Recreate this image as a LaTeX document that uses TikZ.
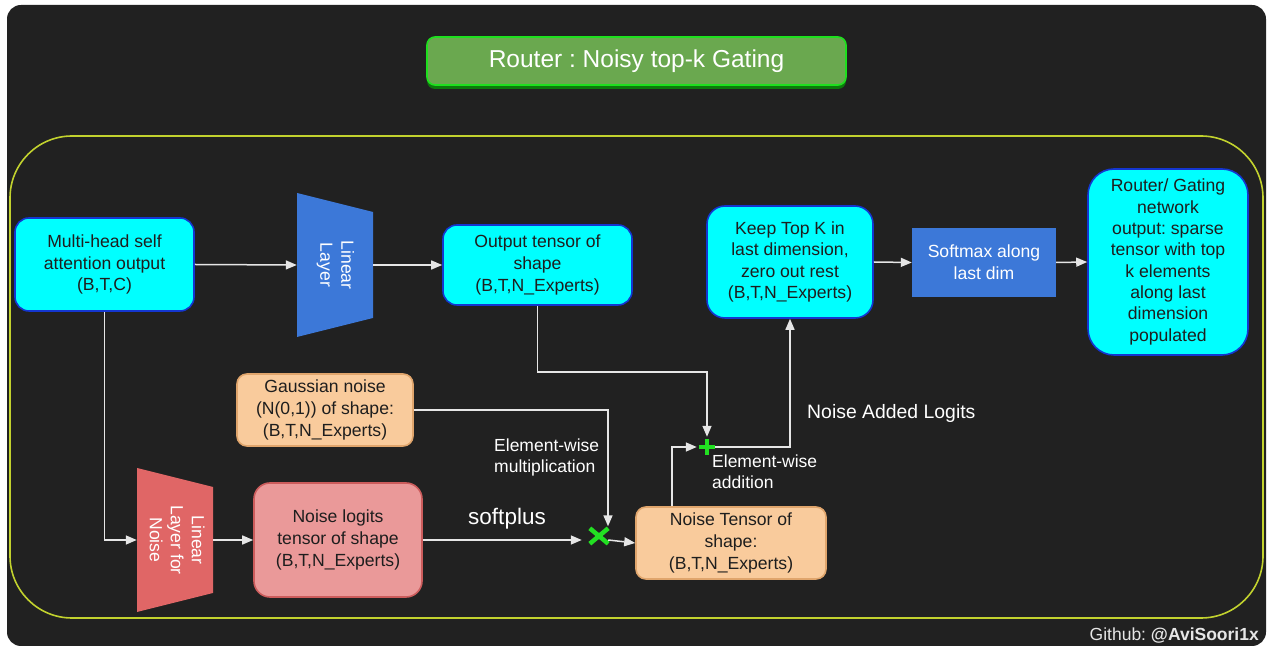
\documentclass[tikz,border=0pt]{standalone}
\usepackage{fontspec}
\usepackage{graphicx}
\setmainfont{Liberation Sans}
\frenchspacing
\usetikzlibrary{arrows.meta}
\definecolor{bg}{HTML}{212121}
\definecolor{cyanF}{HTML}{00FFFF}
\definecolor{cyanB}{HTML}{1436D0}
\definecolor{orangeF}{HTML}{F9CB9C}
\definecolor{orangeB}{HTML}{E0A56C}
\definecolor{pinkF}{HTML}{EA9999}
\definecolor{pinkB}{HTML}{CC5C5C}
\definecolor{redT}{HTML}{E06666}
\definecolor{blueT}{HTML}{3C78D8}
\definecolor{titleF}{HTML}{6AA84F}
\definecolor{titleB}{HTML}{1EE01E}
\definecolor{titleS}{HTML}{0B7A0B}
\definecolor{frameY}{HTML}{C2D22E}
\definecolor{txtdark}{HTML}{1E1E1E}
\definecolor{lineC}{HTML}{E6E6E6}
\definecolor{opG}{HTML}{22E022}
\tikzset{
  box/.style={rounded corners=14pt, line width=1.6pt, align=center, inner sep=0pt,
    font=\fontsize{17.6}{21.6}\selectfont, text=txtdark},
  cyanbox/.style={box, fill=cyanF, draw=cyanB},
  orangebox/.style={box, fill=orangeF, draw=orangeB, rounded corners=10pt},
  pinkbox/.style={box, fill=pinkF, draw=pinkB, rounded corners=16pt},
  arr/.style={draw=lineC, line width=1.5pt, -{Triangle[length=11pt,width=9pt]}},
  lbl/.style={text=white, align=left, inner sep=0pt, font=\fontsize{17.5}{21}\selectfont},
  opmark/.style={draw=opG, line width=4.5pt},
}
\begin{document}
\begin{tikzpicture}[x=1pt,y=1pt]
\useasboundingbox (0,0) rectangle (1267,648);
\fill[white] (0,0) rectangle (1267,648);
\fill[bg, rounded corners=14pt] (7,2) rectangle (1266,643);

% title
\fill[titleS, rounded corners=8pt] (427,559) rectangle (846,609);
\node[draw=titleB, fill=titleF, line width=1.6pt, rounded corners=8pt,
  minimum width=419pt, minimum height=48pt, inner sep=0pt, text=white,
  font=\fontsize{24.5}{28}\selectfont] (ttl) at (636.5,587) {Router : Noisy top-k Gating};

% outer frame
\draw[frameY, line width=1.6pt, rounded corners=62pt] (10,512) rectangle (1263,30);

% trapezoids
\fill[blueT] (297,455) -- (373,436) -- (373,330) -- (297,311) -- cycle;
\fill[redT] (137,180) -- (213,161) -- (213,55) -- (137,36) -- cycle;

% nodes
\node[cyanbox, minimum width=179pt, minimum height=93pt] (mha) at (104.5,383.5)
  {Multi-head self\\attention output\\(B,T,C)};
\node[minimum width=76pt, minimum height=144pt, inner sep=0pt, text=white] (lin) at (335,383)
  {\rotatebox{-90}{\fontsize{17.6}{21}\selectfont\begin{tabular}{@{}c@{}}Linear\\Layer\end{tabular}}};
\node[cyanbox, minimum width=189pt, minimum height=80pt] (out) at (537.5,383)
  {Output tensor of\\shape\\(B,T,N\_Experts)};
\node[cyanbox, rounded corners=18pt, minimum width=166pt, minimum height=112pt] (keep) at (790,386)
  {Keep Top K in\\last dimension,\\zero out rest\\(B,T,N\_Experts)};
\node[fill=blueT, minimum width=144pt, minimum height=69pt, inner sep=0pt, align=center,
  text=white, font=\fontsize{17.6}{21.6}\selectfont] (soft) at (984,385.5) {Softmax along\\last dim};
\node[cyanbox, rounded corners=26pt, minimum width=160pt, minimum height=186pt,
  font=\fontsize{17.6}{21.3}\selectfont] (rout) at (1168,386)
  {Router/ Gating\\network\\output: sparse\\tensor with top\\k elements\\along last\\dimension\\populated};
\node[orangebox, minimum width=176pt, minimum height=72pt] (gauss) at (325,238)
  {Gaussian noise\\(N(0,1)) of shape:\\(B,T,N\_Experts)};
\node[minimum width=76pt, minimum height=144pt, inner sep=0pt, text=white] (lin2) at (175,108)
  {\rotatebox{-90}{\fontsize{17.6}{21}\selectfont\begin{tabular}{@{}c@{}}Linear\\Layer for\\Noise\end{tabular}}};
\node[pinkbox, minimum width=168pt, minimum height=114pt] (nlog) at (338,108)
  {Noise logits\\tensor of shape\\(B,T,N\_Experts)};
\node[orangebox, minimum width=190pt, minimum height=72pt] (ntens) at (731,105)
  {Noise Tensor of\\shape:\\(B,T,N\_Experts)};

% operators
\node[minimum width=18pt, minimum height=15pt, inner sep=0pt] (mul) at (599,112) {};
\draw[opmark] (mul.north west) -- (mul.south east) (mul.south west) -- (mul.north east);
\node[minimum width=16pt, minimum height=16pt, inner sep=0pt] (add) at (707,201) {};
\draw[opmark, line width=4pt] (add.north) -- (add.south) (add.west) -- (add.east);

% labels
\node[lbl, anchor=west, font=\fontsize{19.4}{22}\selectfont] (nal) at (807,235) {Noise Added Logits};
\node[lbl, anchor=west] (ewa) at (712,176) {Element-wise\\addition};
\node[lbl, anchor=west] (ewm) at (494,190.5) {Element-wise\\multiplication};
\node[lbl, font=\fontsize{22.5}{24}\selectfont] (sp) at (507,129) {softplus};
\node[inner sep=0pt, anchor=east, text=lineC, font=\fontsize{17.5}{20}\selectfont] (gh) at (1259,12)
  {Github: \textbf{@AviSoori1x}};

% connectors
\coordinate (jo) at (537.5,276);
\draw[arr] (mha.east) -- (lin.west);
\draw[arr] (lin.east) -- (out.west);
\draw[arr] (keep.east) -- (soft.west);
\draw[arr] (soft.east) -- (rout.west);
\draw[arr] (mha.south) |- (lin2.west);
\draw[arr] (lin2.east) -- (nlog.west);
\draw[arr] (nlog.east) -- ([xshift=-8pt]mul.west |- nlog.east);
\draw[arr] (gauss.east) -| ([xshift=9pt,yshift=2pt]mul.north);
\draw[arr] ([yshift=-4pt]mul.east) -- (ntens.west);
\draw[arr] (out.south) -- (jo) -| ([yshift=2pt]add.north);
\draw[arr] ([xshift=-59pt]ntens.north) |- ([xshift=-2pt]add.west);
\draw[arr] (add.east) -| (keep.south);
\end{tikzpicture}
\end{document}
